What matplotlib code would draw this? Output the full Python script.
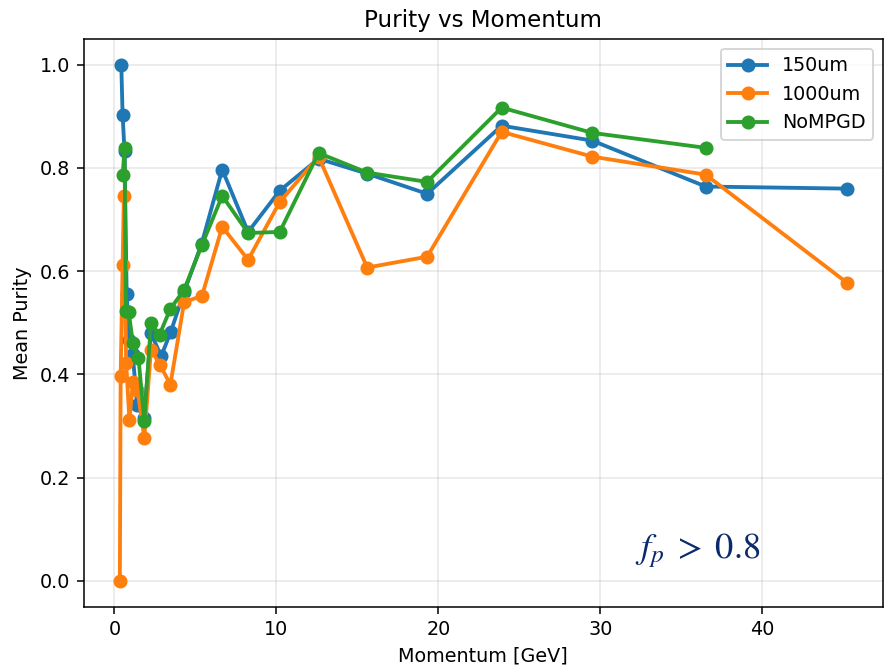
import matplotlib
matplotlib.use("Agg")
import matplotlib.pyplot as plt

# mean momentum per bin [GeV] and mean purity, one list pair per sensor config
p_150 = [0.42, 0.50, 0.62, 0.75, 0.90, 1.12, 1.40, 1.82, 2.25, 2.88, 3.48, 4.30,
         5.38, 6.65, 8.25, 10.2, 12.6, 15.6, 19.3, 23.9, 29.5, 36.5, 45.2]
pur_150 = [1.0, 0.903, 0.832, 0.555, 0.467, 0.44, 0.340, 0.315, 0.48, 0.435, 0.483, 0.560,
           0.653, 0.797, 0.676, 0.756, 0.818, 0.789, 0.750, 0.882, 0.853, 0.764, 0.760]

p_1000 = [0.33, 0.38, 0.50, 0.58, 0.72, 0.92, 1.15, 1.42, 1.84, 2.25, 2.80, 3.45, 4.30,
          5.40, 6.65, 8.25, 10.2, 12.6, 15.6, 19.3, 23.9, 29.5, 36.5, 45.2]
pur_1000 = [0.0, 0.396, 0.612, 0.745, 0.422, 0.312, 0.386, 0.37, 0.277, 0.448, 0.419, 0.380, 0.540,
            0.552, 0.686, 0.622, 0.734, 0.822, 0.607, 0.628, 0.870, 0.822, 0.787, 0.578]

p_nompgd = [0.51, 0.62, 0.70, 0.88, 1.13, 1.48, 1.84, 2.25, 2.78, 3.45, 4.30,
            5.40, 6.65, 8.25, 10.2, 12.6, 15.6, 19.3, 23.9, 29.5, 36.5]
pur_nompgd = [0.787, 0.839, 0.523, 0.521, 0.461, 0.432, 0.309, 0.499, 0.477, 0.527, 0.564,
              0.651, 0.746, 0.674, 0.676, 0.829, 0.791, 0.773, 0.917, 0.868, 0.839]

plt.rcParams["mathtext.fontset"] = "stix"

fig, ax = plt.subplots(figsize=(884 / 138, 666 / 138), dpi=138)

ax.plot(p_150, pur_150, "o-", lw=2, ms=6.3, label="150um")
ax.plot(p_1000, pur_1000, "o-", lw=2, ms=6.3, label="1000um")
ax.plot(p_nompgd, pur_nompgd, "o-", lw=2, ms=6.3, label="NoMPGD")

ax.grid(alpha=0.3)
ax.set_xlabel("Momentum [GeV]")
ax.set_ylabel("Mean Purity")
ax.set_title("Purity vs Momentum")
ax.legend(loc="upper right")

ax.text(0.69, 0.085, r"$f_p\;>\;0.8$", transform=ax.transAxes,
        fontsize=19, color="#0b2a6b")

fig.subplots_adjust(left=83.5 / 884, right=883 / 884, top=1 - 39 / 666, bottom=1 - 606.5 / 666)
fig.savefig("out.png", dpi=138)
